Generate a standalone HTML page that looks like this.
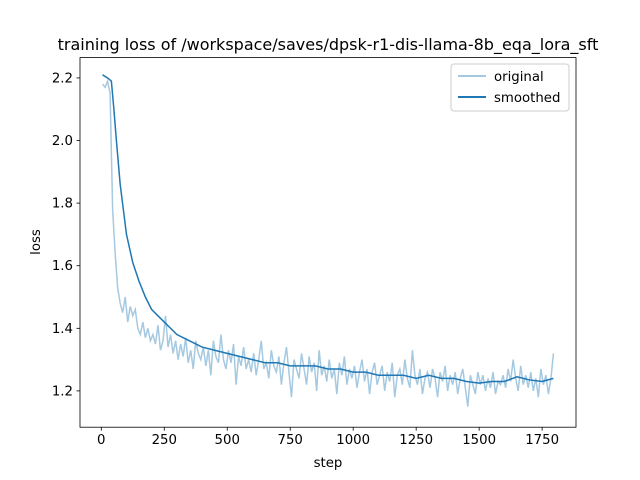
<!DOCTYPE html>
<html><head><meta charset="utf-8"><style>
body{margin:0;background:#fff}
svg{display:block;font-family:"DejaVu Sans","Liberation Sans",sans-serif}
</style></head><body>
<svg id="chart" width="640" height="480">
<rect width="640" height="480" fill="#fff"/>
<text x="328" y="50" font-size="16" text-anchor="middle">training loss of /workspace/saves/dpsk-r1-dis-llama-8b_eqa_lora_sft</text>
<g id="plot"></g>
<rect x="80" y="57.6" width="496" height="369.6" fill="none" stroke="#000" stroke-width="0.8"/>
<text x="328" y="467" font-size="13.3" text-anchor="middle">step</text>
<text transform="translate(40,242) rotate(-90)" font-size="13.3" text-anchor="middle">loss</text>
<g>
<rect x="451" y="64" width="118" height="47" rx="3" fill="#fff" fill-opacity="0.8" stroke="#ccc"/>
<line x1="458" y1="76" x2="486" y2="76" stroke="#1f77b4" stroke-opacity="0.4" stroke-width="2"/>
<text x="494" y="81" font-size="13.3">original</text>
<line x1="458" y1="97" x2="486" y2="97" stroke="#1f77b4" stroke-width="2"/>
<text x="494" y="102" font-size="13.3">smoothed</text>
</g>
</svg>
<script>
const originalLoss=[2.18,2.17,2.19,2.15,1.78,1.64,1.53,1.48,1.45,1.50,1.42,1.47,1.44,1.46,1.40,1.38,1.42,1.37,1.40,1.36,1.38,1.35,1.41,1.33,1.36,1.44,1.34,1.38,1.32,1.36,
1.30,1.35,1.31,1.37,1.29,1.33,1.27,1.36,1.32,1.30,
1.34,1.28,1.33,1.25,1.36,1.31,1.29,1.38,1.30,1.27,
1.33,1.29,1.35,1.22,1.31,1.28,1.34,1.27,1.30,1.26,
1.32,1.25,1.30,1.36,1.27,1.29,1.24,1.33,1.28,1.26,
1.31,1.22,1.29,1.34,1.26,1.18,1.30,1.27,1.24,1.32,
1.27,1.22,1.31,1.26,1.29,1.20,1.33,1.25,1.28,1.23,
1.30,1.24,1.27,1.19,1.29,1.25,1.31,1.22,1.27,1.24,
1.28,1.21,1.26,1.30,1.23,1.27,1.19,1.26,1.29,1.22,
1.25,1.28,1.20,1.26,1.23,1.29,1.18,1.25,1.27,1.22,
1.30,1.24,1.21,1.33,1.25,1.22,1.27,1.19,1.24,1.26,
1.21,1.27,1.24,1.18,1.26,1.23,1.28,1.20,1.25,1.22,
1.26,1.19,1.24,1.27,1.21,1.15,1.25,1.22,1.19,1.26,
1.22,1.25,1.20,1.24,1.21,1.26,1.19,1.23,1.22,1.25,
1.21,1.27,1.23,1.30,1.24,1.20,1.28,1.22,1.25,1.21,
1.26,1.20,1.24,1.18,1.27,1.22,1.25,1.19,1.24,1.32];
const originalSteps=originalLoss.map((_,i)=>5+10*i);
const smoothSteps=[5,25,40,50,60,75,100,125,150,175,200,250,300,350,400,450,500,550,600,650,700,750,800,850,900,950,1000,1050,1100,1150,1200,1250,1300,1350,1400,1450,1500,1550,1600,1650,1700,1750,1795];
const smoothLoss=[2.21,2.20,2.19,2.10,2.0,1.86,1.70,1.61,1.55,1.50,1.46,1.42,1.38,1.36,1.34,1.33,1.32,1.31,1.30,1.29,1.29,1.28,1.28,1.28,1.27,1.27,1.26,1.26,1.25,1.25,1.25,1.24,1.25,1.24,1.24,1.23,1.225,1.23,1.23,1.245,1.235,1.23,1.24];
const xTicks=[0,250,500,750,1000,1250,1500,1750];
const yTicks=[1.2,1.4,1.6,1.8,2.0,2.2];
const X0=80,X1=576,Y0=427.2,Y1=57.6,xMin=-84.5,xMax=1884.5,yMin=1.084,yMax=2.265;
const sx=v=>X0+(v-xMin)/(xMax-xMin)*(X1-X0);
const sy=v=>Y0-(v-yMin)/(yMax-yMin)*(Y0-Y1);
const NS="http://www.w3.org/2000/svg",g=document.getElementById('plot');
function mk(t,a){const e=document.createElementNS(NS,t);for(const k in a)e.setAttribute(k,a[k]);g.appendChild(e);return e;}
xTicks.forEach(t=>{
 const l=mk('line',{x1:sx(t),x2:sx(t),y1:Y0,y2:Y0+3.5,stroke:'#000','stroke-width':0.8});
 
 
 const s=mk('text',{x:sx(t),y:Y0+17,'font-size':13.3,'text-anchor':'middle'});s.textContent=t;
 
 
});
yTicks.forEach(t=>{
 const l=mk('line',{x1:X0-3.5,x2:X0,y1:sy(t),y2:sy(t),stroke:'#000','stroke-width':0.8});
 
 
 const s=mk('text',{x:X0-7,y:sy(t)+4.5,'font-size':13.3,'text-anchor':'end'});s.textContent=t.toFixed(1);
 
 
});
const p1=mk('polyline',{points:originalSteps.map((s,i)=>sx(s)+','+sy(originalLoss[i])).join(' '),fill:'none',stroke:'#1f77b4','stroke-opacity':0.4,'stroke-width':1.5});


const p2=mk('polyline',{points:smoothSteps.map((s,i)=>sx(s)+','+sy(smoothLoss[i])).join(' '),fill:'none',stroke:'#1f77b4','stroke-width':1.5});


</script>
</body></html>
